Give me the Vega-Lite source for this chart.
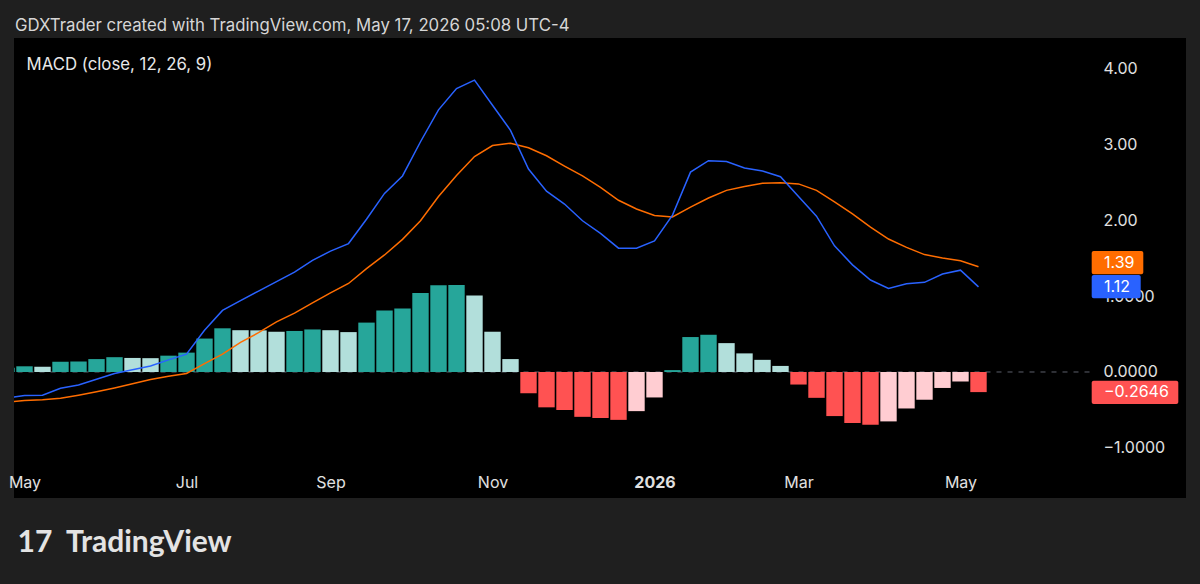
{
  "$schema": "https://vega.github.io/schema/vega-lite/v6.json",
  "autosize": {"type": "none"},
  "width": 1172,
  "height": 460,
  "padding": {"left": 14, "top": 38, "right": 14, "bottom": 86},
  "background": "#1f1f1f",
  "view": {"fill": "#000000", "stroke": null},
  "config": {"font": "Inter"},
  "title": {
    "text": "GDXTrader created with TradingView.com, May 17, 2026 05:08 UTC-4",
    "anchor": "start",
    "frame": "group",
    "orient": "top",
    "offset": -10,
    "dx": 1,
    "baseline": "alphabetic",
    "color": "#d6d6d6",
    "font": "Inter",
    "fontSize": 16.8,
    "fontWeight": "normal"
  },
  "data": {
    "values": [
      {"date": "2025-04-28T00:00:00", "macd": -0.345, "signal": -0.4, "hist": 0.056},
      {"date": "2025-05-05T00:00:00", "macd": -0.31, "signal": -0.375, "hist": 0.075},
      {"date": "2025-05-12T00:00:00", "macd": -0.305, "signal": -0.365, "hist": 0.068},
      {"date": "2025-05-19T00:00:00", "macd": -0.215, "signal": -0.345, "hist": 0.135},
      {"date": "2025-05-26T00:00:00", "macd": -0.17, "signal": -0.305, "hist": 0.137},
      {"date": "2025-06-02T00:00:00", "macd": -0.095, "signal": -0.26, "hist": 0.17},
      {"date": "2025-06-09T00:00:00", "macd": -0.02, "signal": -0.21, "hist": 0.195},
      {"date": "2025-06-16T00:00:00", "macd": 0.03, "signal": -0.155, "hist": 0.185},
      {"date": "2025-06-23T00:00:00", "macd": 0.08, "signal": -0.1, "hist": 0.182},
      {"date": "2025-06-30T00:00:00", "macd": 0.16, "signal": -0.055, "hist": 0.215},
      {"date": "2025-07-07T00:00:00", "macd": 0.235, "signal": -0.02, "hist": 0.255},
      {"date": "2025-07-14T00:00:00", "macd": 0.55, "signal": 0.11, "hist": 0.44},
      {"date": "2025-07-21T00:00:00", "macd": 0.81, "signal": 0.235, "hist": 0.575},
      {"date": "2025-07-28T00:00:00", "macd": 0.94, "signal": 0.39, "hist": 0.55},
      {"date": "2025-08-04T00:00:00", "macd": 1.065, "signal": 0.517, "hist": 0.548},
      {"date": "2025-08-11T00:00:00", "macd": 1.19, "signal": 0.66, "hist": 0.53},
      {"date": "2025-08-18T00:00:00", "macd": 1.315, "signal": 0.775, "hist": 0.54},
      {"date": "2025-08-25T00:00:00", "macd": 1.47, "signal": 0.91, "hist": 0.56},
      {"date": "2025-09-01T00:00:00", "macd": 1.59, "signal": 1.04, "hist": 0.55},
      {"date": "2025-09-08T00:00:00", "macd": 1.69, "signal": 1.165, "hist": 0.525},
      {"date": "2025-09-15T00:00:00", "macd": 2.01, "signal": 1.36, "hist": 0.65},
      {"date": "2025-09-22T00:00:00", "macd": 2.35, "signal": 1.54, "hist": 0.81},
      {"date": "2025-09-29T00:00:00", "macd": 2.58, "signal": 1.745, "hist": 0.835},
      {"date": "2025-10-06T00:00:00", "macd": 3.03, "signal": 1.99, "hist": 1.04},
      {"date": "2025-10-13T00:00:00", "macd": 3.45, "signal": 2.31, "hist": 1.14},
      {"date": "2025-10-20T00:00:00", "macd": 3.73, "signal": 2.585, "hist": 1.145},
      {"date": "2025-10-27T00:00:00", "macd": 3.84, "signal": 2.835, "hist": 1.005},
      {"date": "2025-11-03T00:00:00", "macd": 3.51, "signal": 2.98, "hist": 0.53},
      {"date": "2025-11-10T00:00:00", "macd": 3.18, "signal": 3.01, "hist": 0.17},
      {"date": "2025-11-17T00:00:00", "macd": 2.67, "signal": 2.95, "hist": -0.28},
      {"date": "2025-11-24T00:00:00", "macd": 2.38, "signal": 2.845, "hist": -0.465},
      {"date": "2025-12-01T00:00:00", "macd": 2.21, "signal": 2.71, "hist": -0.5},
      {"date": "2025-12-08T00:00:00", "macd": 1.99, "signal": 2.58, "hist": -0.59},
      {"date": "2025-12-15T00:00:00", "macd": 1.825, "signal": 2.43, "hist": -0.605},
      {"date": "2025-12-22T00:00:00", "macd": 1.63, "signal": 2.26, "hist": -0.63},
      {"date": "2025-12-29T00:00:00", "macd": 1.63, "signal": 2.145, "hist": -0.515},
      {"date": "2026-01-05T00:00:00", "macd": 1.725, "signal": 2.06, "hist": -0.335},
      {"date": "2026-01-12T00:00:00", "macd": 2.065, "signal": 2.04, "hist": 0.025},
      {"date": "2026-01-19T00:00:00", "macd": 2.63, "signal": 2.17, "hist": 0.46},
      {"date": "2026-01-26T00:00:00", "macd": 2.78, "signal": 2.29, "hist": 0.49},
      {"date": "2026-02-02T00:00:00", "macd": 2.77, "signal": 2.39, "hist": 0.38},
      {"date": "2026-02-09T00:00:00", "macd": 2.685, "signal": 2.44, "hist": 0.245},
      {"date": "2026-02-16T00:00:00", "macd": 2.645, "signal": 2.485, "hist": 0.16},
      {"date": "2026-02-23T00:00:00", "macd": 2.57, "signal": 2.49, "hist": 0.08},
      {"date": "2026-03-02T00:00:00", "macd": 2.31, "signal": 2.475, "hist": -0.165},
      {"date": "2026-03-09T00:00:00", "macd": 2.05, "signal": 2.39, "hist": -0.34},
      {"date": "2026-03-16T00:00:00", "macd": 1.66, "signal": 2.24, "hist": -0.58},
      {"date": "2026-03-23T00:00:00", "macd": 1.41, "signal": 2.08, "hist": -0.67},
      {"date": "2026-03-30T00:00:00", "macd": 1.21, "signal": 1.905, "hist": -0.695},
      {"date": "2026-04-06T00:00:00", "macd": 1.1, "signal": 1.75, "hist": -0.65},
      {"date": "2026-04-13T00:00:00", "macd": 1.16, "signal": 1.64, "hist": -0.48},
      {"date": "2026-04-20T00:00:00", "macd": 1.18, "signal": 1.545, "hist": -0.365},
      {"date": "2026-04-27T00:00:00", "macd": 1.29, "signal": 1.5, "hist": -0.21},
      {"date": "2026-05-04T00:00:00", "macd": 1.34, "signal": 1.465, "hist": -0.125},
      {"date": "2026-05-11T00:00:00", "macd": 1.1204, "signal": 1.385, "hist": -0.2646}
    ]
  },
  "transform": [{"fold": ["signal", "macd", "hist"], "as": ["series", "value"]}],
  "encoding": {
    "x": {
      "field": "date",
      "type": "temporal",
      "scale": {
        "padding": 0,
        "domain": [
          {"year": 2025, "month": 4, "date": 30, "hours": 22},
          {"year": 2026, "month": 7, "date": 30, "hours": 16, "minutes": 40}
        ]
      },
      "axis": {
        "values": [
          {"year": 2025, "month": 5, "date": 5},
          {"year": 2025, "month": 7, "date": 7},
          {"year": 2025, "month": 9, "date": 1},
          {"year": 2025, "month": 11, "date": 3},
          {"year": 2026, "month": 1, "date": 5},
          {"year": 2026, "month": 3, "date": 2},
          {"year": 2026, "month": 5, "date": 4}
        ],
        "labelExpr": "month(datum.value) == 0 ? timeFormat(datum.value, '%Y') : timeFormat(datum.value, '%b')",
        "labelFontWeight": {"condition": {"test": "month(datum.value) == 0", "value": "bold"}, "value": "normal"},
        "ticks": false,
        "domain": false,
        "grid": false,
        "labelPadding": -11,
        "labelBaseline": "alphabetic",
        "labelColor": "#e0e0e0",
        "labelFont": "Inter",
        "labelFontSize": 16,
        "labelFlush": false,
        "labelOverlap": false,
        "labelBound": false,
        "title": "17\u00a0\u00a0TradingView",
        "titleX": 3,
        "titleY": 53,
        "titleAlign": "left",
        "titleBaseline": "alphabetic",
        "titleColor": "#e3e3e3",
        "titleFont": "Lato",
        "titleFontSize": 30,
        "titleFontWeight": "bold"
      }
    },
    "y": {
      "field": "value",
      "type": "quantitative",
      "scale": {"domain": [-1.658, 4.395], "nice": false, "zero": false},
      "axis": {
        "orient": "right",
        "values": [-1, 0, 1, 2, 3, 4],
        "labelExpr": "datum.value >= 2 ? format(datum.value, '.2f') : format(datum.value, '.4f')",
        "labelAlign": "left",
        "labelBaseline": "middle",
        "labelPadding": -83,
        "ticks": false,
        "domain": false,
        "grid": false,
        "labelColor": "#e0e0e0",
        "labelFont": "Inter",
        "labelFontSize": 16,
        "labelBound": false,
        "labelOverlap": false,
        "labelFlush": false,
        "title": "MACD (close, 12, 26, 9)",
        "titleAngle": 0,
        "titleAlign": "left",
        "titleBaseline": "alphabetic",
        "titleX": -1160,
        "titleY": 31,
        "titleColor": "#e8e8e8",
        "titleFont": "Inter",
        "titleFontSize": 16.8,
        "titleFontWeight": "normal"
      }
    }
  },
  "layer": [
    {
      "transform": [
        {"filter": "datum.series == 'hist'"},
        {"joinaggregate": [{"op": "min", "field": "date", "as": "first"}, {"op": "max", "field": "date", "as": "last"}]},
        {"filter": "time(datum.date) == time(datum.first)"}
      ],
      "mark": {"type": "rule", "color": "#5d606b", "strokeDash": [5, 6], "strokeWidth": 1, "x2Offset": 111.5, "clip": true},
      "encoding": {
        "x2": {"field": "last"},
        "y": {
          "datum": 0,
          "type": "quantitative",
          "scale": {"domain": [-1.658, 4.395], "nice": false, "zero": false},
          "axis": {
            "orient": "right",
            "values": [-1, 0, 1, 2, 3, 4],
            "labelExpr": "datum.value >= 2 ? format(datum.value, '.2f') : format(datum.value, '.4f')",
            "labelAlign": "left",
            "labelBaseline": "middle",
            "labelPadding": -83,
            "ticks": false,
            "domain": false,
            "grid": false,
            "labelColor": "#e0e0e0",
            "labelFont": "Inter",
            "labelFontSize": 16,
            "labelBound": false,
            "labelOverlap": false,
            "labelFlush": false,
            "title": "MACD (close, 12, 26, 9)",
            "titleAngle": 0,
            "titleAlign": "left",
            "titleBaseline": "alphabetic",
            "titleX": -1160,
            "titleY": 31,
            "titleColor": "#e8e8e8",
            "titleFont": "Inter",
            "titleFontSize": 16.8,
            "titleFontWeight": "normal"
          }
        }
      }
    },
    {
      "transform": [
        {"filter": "datum.series == 'hist'"},
        {"window": [{"op": "lag", "field": "value", "as": "prev"}], "sort": [{"field": "date"}]}
      ],
      "mark": {"type": "bar", "width": 16.4, "clip": true},
      "encoding": {
        "color": {
          "condition": [
            {"test": "datum.value >= 0 && datum.value >= datum.prev", "value": "#26a69a"},
            {"test": "datum.value >= 0", "value": "#b2dfdb"},
            {"test": "datum.value < datum.prev", "value": "#ff5252"}
          ],
          "value": "#ffcdd2"
        }
      }
    },
    {
      "transform": [{"filter": "datum.series != 'hist'"}],
      "mark": {"type": "line", "strokeWidth": 1.5, "clip": true},
      "encoding": {
        "color": {
          "field": "series",
          "type": "nominal",
          "scale": {"domain": ["signal", "macd", "hist"], "range": ["#ff6d00", "#2962ff", "#ff5252"]},
          "legend": null
        }
      }
    },
    {
      "transform": [
        {"joinaggregate": [{"op": "max", "field": "date", "as": "last"}]},
        {"filter": "time(datum.date) == time(datum.last)"}
      ],
      "layer": [
        {
          "transform": [{"filter": "datum.series == 'signal'"}],
          "mark": {"type": "rect", "color": "#ff6d00", "cornerRadius": 2, "xOffset": 113.2, "x2Offset": 164.8, "yOffset": -15.7, "y2Offset": 7.6},
          "encoding": {"x2": {"field": "date"}, "y2": {"field": "value"}}
        },
        {
          "transform": [{"filter": "datum.series == 'signal'"}],
          "mark": {"type": "text", "align": "left", "baseline": "middle", "dx": 125.5, "dy": -4, "color": "#ffffff", "font": "Inter", "fontSize": 16},
          "encoding": {"text": {"field": "value", "format": ".2f"}}
        },
        {
          "transform": [{"filter": "datum.series == 'macd'"}],
          "mark": {"type": "rect", "color": "#2962ff", "cornerRadius": 2, "xOffset": 113.2, "x2Offset": 162.2, "yOffset": -11.85, "y2Offset": 11.45},
          "encoding": {"x2": {"field": "date"}, "y2": {"field": "value"}}
        },
        {
          "transform": [{"filter": "datum.series == 'macd'"}],
          "mark": {"type": "text", "align": "left", "baseline": "middle", "dx": 125.5, "color": "#ffffff", "font": "Inter", "fontSize": 16},
          "encoding": {"text": {"field": "value", "format": ".2f"}}
        },
        {
          "transform": [{"filter": "datum.series == 'hist'"}],
          "mark": {"type": "rect", "color": "#ff5252", "cornerRadius": 2, "xOffset": 113.2, "x2Offset": 199.8, "yOffset": -11.4, "y2Offset": 11.9},
          "encoding": {"x2": {"field": "date"}, "y2": {"field": "value"}}
        },
        {
          "transform": [{"filter": "datum.series == 'hist'"}],
          "mark": {"type": "text", "align": "left", "baseline": "middle", "dx": 125.5, "color": "#ffffff", "font": "Inter", "fontSize": 16},
          "encoding": {"text": {"field": "value", "format": ".4f"}}
        }
      ]
    }
  ]
}
